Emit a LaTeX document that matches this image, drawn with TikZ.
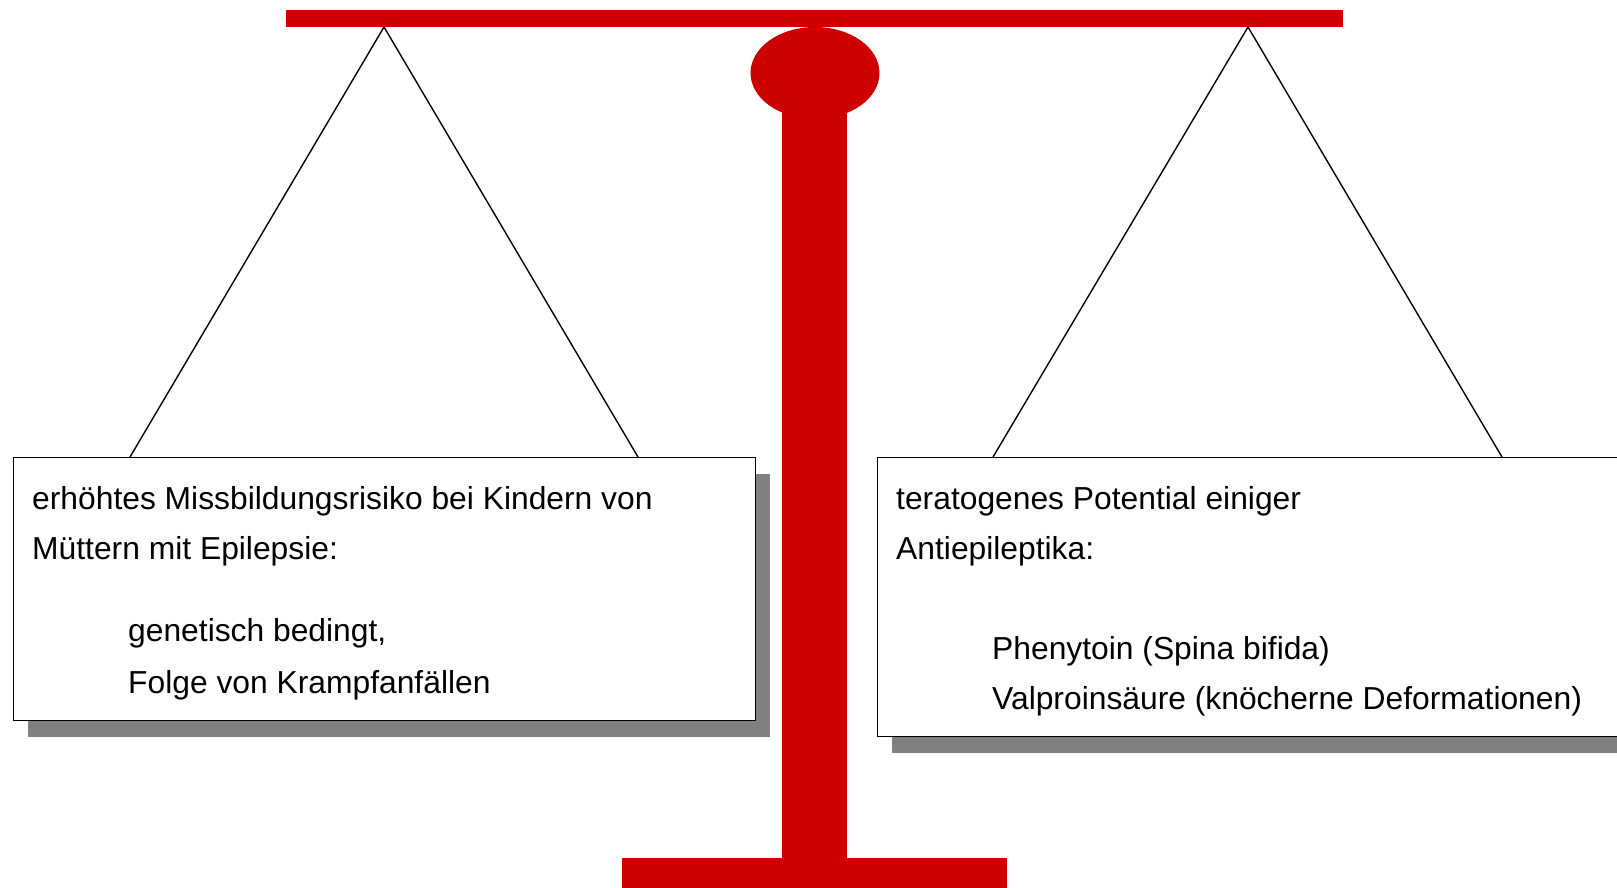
\documentclass[tikz,border=0pt]{standalone}
\usepackage{fontspec}
\setmainfont{Liberation Sans}
\usetikzlibrary{shadows}
\definecolor{scalered}{HTML}{CC0000}
\definecolor{shadowgray}{HTML}{808080}
\tikzset{
  beam/.style={fill=scalered, draw=none},
  rope/.style={draw=black, line width=1.4pt},
  panbox/.style={draw=black, line width=0.9pt, fill=white, inner sep=0pt, anchor=north west,
    drop shadow={shadow xshift=15pt, shadow yshift=-17pt, fill=shadowgray, opacity=1}},
  txt/.style={anchor=base west, inner sep=0pt, font=\fontsize{31.8}{38}\selectfont}
}
\begin{document}
\begin{tikzpicture}[x=1pt,y=-1pt]
\useasboundingbox (0,0) rectangle (1617,888);
\clip (0,0) rectangle (1617,888);
% scale body
\fill[beam] (286,10) rectangle (1343,27);
\fill[beam] (815,73) ellipse [x radius=64.5, y radius=46];
\fill[beam] (782,100) rectangle (847,858);
\fill[beam] (622,858) rectangle (1007,888);
% pans
\node[panbox, minimum width=742pt, minimum height=263pt] (lbox) at (13,457) {};
\node[panbox, minimum width=780pt, minimum height=279pt] (rbox) at (877,457) {};
% ropes
\coordinate (lapex) at (384,27);
\coordinate (lfootA) at (130,457);
\coordinate (lfootB) at (638,457);
\coordinate (rapex) at (1248,27);
\coordinate (rfootA) at (993,457);
\coordinate (rfootB) at (1502,457);
\draw[rope] (lfootA) -- (lapex) -- (lfootB);
\draw[rope] (rfootA) -- (rapex) -- (rfootB);
% left text
\node[txt] (l1) at (32,509) {erhöhtes Missbildungsrisiko bei Kindern von};
\node[txt] (l2) at (32,559) {Müttern mit Epilepsie:};
\node[txt] (l3) at (128,641) {genetisch bedingt,};
\node[txt] (l4) at (128,693) {Folge von Krampfanfällen};
% right text
\node[txt] (r1) at (896,509) {teratogenes Potential einiger};
\node[txt] (r2) at (896,559) {Antiepileptika:};
\node[txt] (r3) at (992,659) {Phenytoin (Spina bifida)};
\node[txt] (r4) at (992,709) {Valproinsäure (knöcherne Deformationen)};
\end{tikzpicture}
\end{document}
